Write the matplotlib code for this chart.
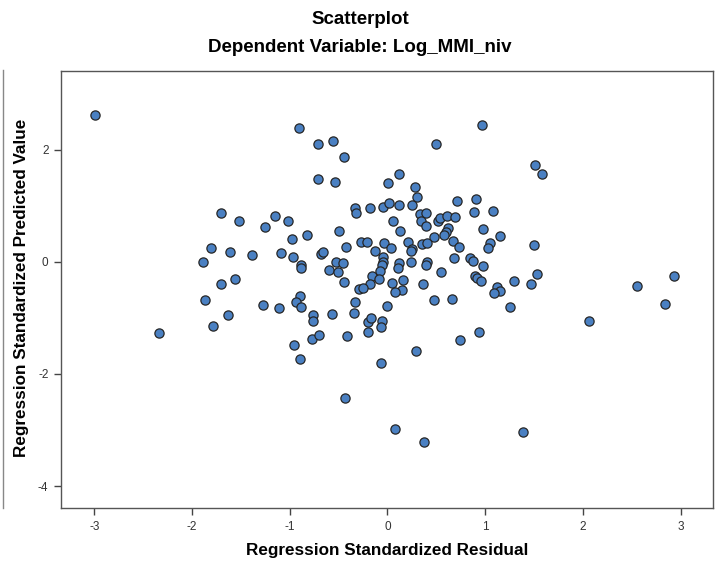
import matplotlib
matplotlib.use("Agg")
import matplotlib.pyplot as plt
import numpy as np

plt.rcParams['font.family'] = ['Liberation Sans', 'DejaVu Sans']

# Regression standardized residuals (x) and standardized predicted values (y)
residual = [
    -2.99, -0.91, -0.71, -0.56, -0.45, -0.71, -0.54, -0.33, -0.32, -1.70,
    -1.52, -1.15, -1.02, -1.25, -0.82, -0.50, -0.98, -1.81, -1.61, -1.39,
    -1.09, -0.97, -0.68, -0.66, -0.42, -0.27, -0.21, -1.89, -0.88, -0.88,
    -0.53, -0.46, -0.60, -0.51, -0.44, -1.70, -1.56, -0.29, 0.97, 0.50,
    1.51, 1.58, 0.12, 0.01, 0.28, 0.30, -0.18, -0.05, 0.02, 0.12,
    0.25, 0.71, 0.91, 0.89, 1.08, 0.33, 0.39, 0.34, 0.39, 0.52,
    0.54, 0.61, 0.69, 0.06, 0.62, 0.60, 0.58, 0.13, 0.98, 1.15,
    0.48, -0.04, -0.13, 0.04, 0.21, 0.25, 0.24, 0.35, 0.40, 0.67,
    0.73, 1.05, 1.03, 1.50, -0.05, -0.05, -0.06, -0.08, 0.12, 0.11,
    0.24, 0.40, 0.39, 0.68, 0.84, 0.87, 0.98, 0.55, -0.16, -0.09,
    0.05, 0.16, 0.36, 0.90, 0.92, 0.96, 1.29, 1.47, 1.53, 2.55,
    2.93, -0.18, -0.25, 0.15, 0.08, 1.12, 1.15, 1.09, -1.87, -1.27,
    -1.11, -0.90, -0.94, -0.88, -0.33, -0.34, -1.63, -1.79, -0.76, -0.76,
    -0.57, -2.34, -0.77, -0.70, -0.41, -0.96, -0.89, -0.43, 2.84, -0.01,
    0.48, 0.66, 1.25, -0.20, -0.17, -0.06, -0.07, -0.20, 0.94, 0.74,
    2.06, 0.29, -0.07, 0.08, 0.37, 1.39,
]
predicted = [
    2.61, 2.38, 2.09, 2.15, 1.86, 1.47, 1.43, 0.95, 0.87, 0.87,
    0.73, 0.82, 0.73, 0.62, 0.48, 0.55, 0.40, 0.24, 0.17, 0.12,
    0.16, 0.09, 0.14, 0.18, 0.26, 0.36, 0.35, -0.01, -0.05, -0.12,
    -0.01, -0.03, -0.14, -0.19, -0.37, -0.40, -0.31, -0.49, 2.44, 2.10,
    1.73, 1.57, 1.57, 1.40, 1.34, 1.16, 0.96, 0.97, 1.04, 1.02,
    1.02, 1.09, 1.12, 0.89, 0.91, 0.85, 0.87, 0.73, 0.63, 0.73,
    0.78, 0.82, 0.80, 0.73, 0.60, 0.53, 0.47, 0.54, 0.58, 0.45,
    0.44, 0.34, 0.20, 0.24, 0.35, 0.23, 0.20, 0.32, 0.34, 0.37,
    0.26, 0.33, 0.25, 0.29, 0.09, -0.01, -0.05, -0.16, -0.02, -0.11,
    -0.01, -0.00, -0.06, 0.06, 0.06, 0.01, -0.08, -0.19, -0.25, -0.30,
    -0.38, -0.33, -0.39, -0.25, -0.29, -0.35, -0.35, -0.39, -0.22, -0.43,
    -0.26, -0.40, -0.47, -0.51, -0.54, -0.45, -0.53, -0.55, -0.68, -0.78,
    -0.82, -0.61, -0.72, -0.80, -0.71, -0.91, -0.95, -1.14, -0.95, -1.06,
    -0.93, -1.27, -1.37, -1.31, -1.33, -1.48, -1.74, -2.43, -0.75, -0.79,
    -0.68, -0.67, -0.81, -1.07, -1.00, -1.06, -1.17, -1.25, -1.26, -1.40,
    -1.05, -1.60, -1.80, -2.99, -3.22, -3.04,
]

xticks = [-3, -2, -1, 0, 1, 2, 3]
yticks = [-4, -2, 0, 2]

W, H = 720, 561
fig = plt.figure(figsize=(W / 100, H / 100), dpi=100)
fig.patch.set_facecolor('white')

left, right, top, bottom = 61, 713, 71, 508
ax = fig.add_axes([left / W, 1 - bottom / H, (right - left) / W, (bottom - top) / H])

ax.scatter(residual, predicted, s=44, c='#4A80C2', edgecolors='#262626',
           linewidths=0.9, zorder=3)

ax.set_xlim(-3.34, 3.33)
ax.set_ylim(-4.39, 3.40)
ax.set_xticks(xticks)
ax.set_yticks(yticks)
ax.set_xticklabels([str(t) for t in xticks])
ax.set_yticklabels([str(t) for t in yticks])
ax.tick_params(axis='both', direction='out', length=5, width=1.0,
               color='#444444', labelcolor='#333333', labelsize=8.5, pad=4)
for sp in ax.spines.values():
    sp.set_color('#555555')
    sp.set_linewidth(1.0)

fig.text(387 / W, 1 - 550 / H, 'Regression Standardized Residual',
         ha='center', va='center', fontsize=12.3, fontweight='bold')
fig.text(22 / W, 1 - 288 / H, 'Regression Standardized Predicted Value',
         ha='center', va='center', rotation=90, fontsize=12.3,
         fontweight='bold')

fig.text(360 / W, 1 - 20 / H, 'Scatterplot', ha='center', va='center',
         fontsize=13.5, fontweight='bold')
fig.text(360 / W, 1 - 48 / H, 'Dependent Variable: Log_MMI_niv',
         ha='center', va='center', fontsize=13.5, fontweight='bold')

# thin frame line at the left edge of the output panel
fig.add_artist(plt.Line2D([2.5 / W, 2.5 / W], [1 - 70 / H, 1 - 508 / H],
                          transform=fig.transFigure, color='#888888', lw=1.0))

fig.savefig('out.png', dpi=100)
